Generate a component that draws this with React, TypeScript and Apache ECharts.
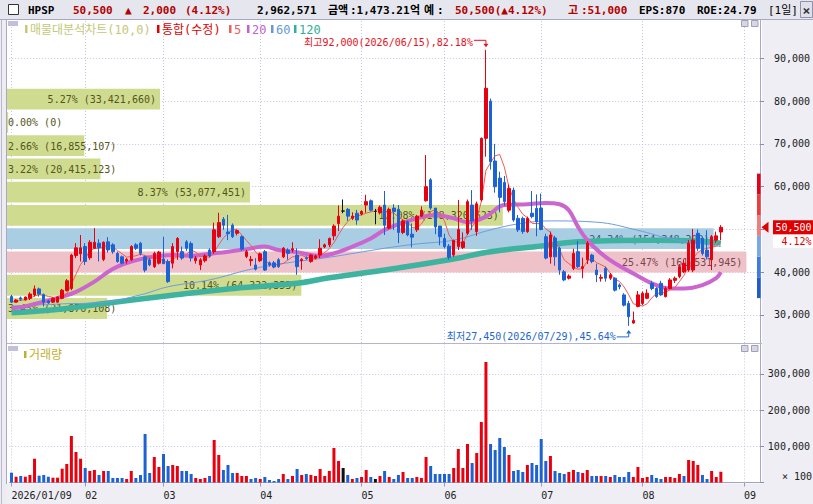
import React, { useEffect, useRef } from "react";
import * as echarts from "echarts";

// ---------------- data ----------------
const janDays = [9, 12, 13, 14, 15, 16, 19, 20, 21, 22, 23, 26, 27, 28, 29, 30];
const febDays = [2, 3, 4, 5, 6, 9, 10, 11, 12, 13, 19, 20, 23, 24, 25, 26, 27];
const marDays = [3, 4, 5, 6, 9, 10, 11, 12, 13, 16, 17, 18, 19, 20, 23, 24, 25, 26, 27, 30, 31];
const aprDays = [1, 2, 3, 6, 7, 8, 9, 10, 13, 14, 15, 16, 17, 20, 21, 22, 23, 24, 27, 28, 29, 30];
const mayDays = [4, 6, 7, 8, 11, 12, 13, 14, 15, 18, 19, 20, 21, 22, 26, 27, 28, 29];
const junDays = [1, 2, 4, 5, 8, 9, 10, 11, 12, 15, 16, 17, 18, 19, 22, 23, 24, 25, 26, 29, 30];
const julDays = [1, 2, 3, 6, 7, 8, 9, 10, 13, 14, 15, 16, 20, 21, 22, 23, 24, 27, 28, 29, 30, 31];
const augDays = [3, 4, 5, 6, 7, 10, 11, 12, 13, 14, 18, 19, 20, 21, 24, 25, 26, 27];
const futureDates = ["2026/08/28", "2026/08/29", "2026/08/30", "2026/08/31", "2026/09/01", "2026/09/02", "2026/09/03", "2026/09/04"];

const opens = [
  34300, 33000, 34000, 33500, 33900, 34700, 36100, 34800, 33300, 33000,
  33000, 33900, 35700, 36200, 43900, 44300, 46000, 43400, 45600, 46800,
  43000, 47100, 46400, 44400, 43600, 42600, 42900, 46400, 46800, 43600,
  42900, 41300, 42100, 43100, 42500, 42100, 44800, 44800, 47100, 46700,
  42700, 41700, 42700, 45200, 44800, 48300, 52400, 49400, 51000, 49100,
  48300, 43700, 42700, 41700, 42700, 44800, 42200, 42200, 42900, 43600,
  45200, 45200, 44000, 42700, 43400, 42500, 43300, 44000, 45900, 46400,
  48500, 51400, 54300, 54700, 52600, 53800, 53600, 55700, 56700, 54200,
  53900, 55700, 50300, 55000, 54700, 49300, 51800, 48900, 49900, 53100,
  56700, 61600, 55000, 50800, 47900, 46100, 44000, 46000, 45800, 49100,
  55700, 49500, 56900, 71300, 80000, 66000, 62000, 61000, 54500, 59200,
  52600, 52600, 49500, 53800, 54900, 55000, 48300, 43600, 48000, 45600,
  40100, 38600, 40900, 44800, 40900, 42900, 44000, 40500, 38600, 40900,
  38600, 38600, 37000, 34700, 32700, 28100, 32000, 32700, 33900, 37400,
  36200, 37400, 34300, 36200, 38100, 39000, 40100, 40500, 40500, 49100,
  47900, 45200, 42900, 47500, 49400,
];
const highs = [
  34700, 33700, 34300, 34300, 35300, 36900, 36400, 35000, 33600, 34100,
  34400, 36100, 38400, 44300, 46800, 48700, 46800, 47500, 50300, 47700,
  47200, 48200, 46800, 44800, 43900, 43300, 46300, 46800, 47100, 43900,
  43300, 44800, 45000, 48300, 43000, 46800, 48200, 46000, 47500, 47200,
  43800, 43300, 44200, 45600, 51600, 53900, 52900, 53400, 51400, 50000,
  48600, 45200, 43800, 43300, 44600, 45200, 42500, 42600, 43300, 45900,
  45600, 47000, 45600, 43300, 43700, 44300, 44100, 47700, 46700, 48100,
  51200, 55600, 57000, 55000, 54000, 54600, 54500, 58100, 57000, 54800,
  55600, 59000, 55100, 55900, 55700, 52300, 52100, 51400, 53400, 55400,
  67400, 62000, 55000, 50800, 49000, 46600, 47600, 56900, 49300, 57000,
  59200, 56500, 71500, 92000, 80600, 70000, 63500, 62500, 60500, 59800,
  53400, 53000, 53000, 59000, 58200, 58400, 49000, 49500, 48500, 46000,
  40500, 39500, 45500, 47300, 43400, 47300, 44300, 42000, 39500, 41300,
  39800, 38800, 37400, 35100, 33300, 30800, 35600, 35500, 36000, 38000,
  36500, 38000, 36600, 38600, 39000, 41900, 43000, 47500, 50100, 50000,
  48300, 49800, 48700, 49500, 51000,
];
const lows = [
  32800, 32900, 33300, 33400, 33500, 34300, 34300, 32000, 32600, 32800,
  32900, 33700, 35500, 35800, 43300, 42500, 41700, 42900, 45400, 42500,
  42600, 44600, 44300, 42200, 41800, 42000, 42600, 45200, 43900, 40000,
  41400, 41000, 41800, 41900, 37500, 40900, 42900, 42900, 45000, 42500,
  42000, 40500, 42300, 43500, 44300, 48000, 49900, 47500, 48000, 48600,
  45000, 43300, 41500, 40400, 42400, 40300, 41300, 40900, 41000, 43300,
  42900, 44600, 39400, 40600, 42900, 42200, 43000, 43300, 45600, 45900,
  47500, 49600, 53800, 52000, 52200, 51100, 53300, 53900, 54200, 51200,
  53500, 48700, 50000, 49900, 46800, 48900, 48400, 45800, 49400, 52900,
  56500, 54600, 48900, 46300, 45600, 42900, 43600, 45200, 45400, 48700,
  49900, 48500, 56500, 67000, 64000, 58600, 54000, 55500, 54000, 51800,
  49400, 49000, 49200, 52600, 48400, 49800, 43000, 42000, 41500, 39400,
  37900, 38300, 40500, 41000, 38600, 41900, 42100, 37700, 37800, 37800,
  38200, 35500, 36000, 32000, 27450, 28000, 31800, 32300, 33700, 35800,
  34000, 34500, 34100, 36000, 37500, 38600, 39800, 40100, 40000, 45000,
  43900, 43000, 40500, 46900, 47500,
];
const closes = [
  33000, 33500, 33700, 34200, 34900, 36100, 34900, 33000, 32800, 33900,
  34200, 35800, 38000, 44000, 45700, 45700, 42500, 47000, 47000, 45800,
  47000, 45200, 44800, 42500, 42100, 43000, 46000, 45600, 44400, 40500,
  41700, 44400, 44700, 42000, 37800, 46000, 47900, 43300, 45600, 43300,
  43300, 42900, 43800, 43800, 49900, 51600, 51000, 49000, 48300, 49700,
  45400, 44800, 43000, 40700, 44300, 40500, 41700, 41200, 41300, 45600,
  44400, 45500, 41300, 43000, 43200, 44000, 43800, 45600, 46400, 47900,
  50800, 53100, 54300, 53100, 53100, 52200, 54200, 56500, 54500, 54200,
  55200, 51000, 54700, 54200, 49300, 52000, 48700, 48200, 53100, 54500,
  60000, 55000, 50600, 48300, 46000, 43500, 47400, 50000, 47100, 56500,
  52000, 56000, 71300, 83000, 65800, 60000, 57500, 56500, 59600, 52200,
  49900, 49500, 52600, 53000, 51800, 50000, 43300, 48700, 43600, 40500,
  38200, 39100, 44400, 41300, 41300, 46800, 42500, 39400, 38800, 38600,
  39400, 35800, 36600, 32300, 29600, 28700, 34700, 35100, 35100, 36200,
  34300, 34700, 36200, 38200, 38600, 41300, 42100, 46800, 47500, 45600,
  44400, 43600, 48300, 48500, 50500,
];

// volume in units of 100 shares
const volumes = [
  27100, 16000, 18000, 16000, 20700, 65700, 18800, 20700, 16000, 13300, 13300, 38100, 51100, 128500, 84300, 65700,
  40100, 31800, 34500, 20700, 31800, 31800, 12400, 12400, 12400, 9700, 31800, 12400, 20700, 134000, 26200, 70400, 42800,
  78700, 45600, 48300, 45600, 31800, 31800, 23500, 12400, 9700, 12400, 18000, 117400, 76000, 34500, 48300, 26200, 26200, 18000, 18000, 9700, 12400,
  9700, 15200, 6900, 4100, 9700, 23500, 9700, 18000, 37300, 20700, 23500, 20700, 18000, 37300, 18000, 31800, 95300, 59400, 40100, 20700, 9700, 12400,
  15200, 34500, 15200, 9700, 18000, 31800, 15200, 9700, 20700, 29000, 12400, 12400, 15200, 12400, 70400, 45600, 23500, 23500,
  23500, 23500, 40100, 92500, 40100, 106400, 53900, 81500, 167100, 332900, 106400, 89800, 122900, 98100, 76000, 31800, 34500, 29000, 48300, 53900, 48300,
  120200, 59400, 73200, 31800, 26200, 23500, 29000, 34500, 29000, 26200, 34500, 18000, 18000, 18000, 18000, 15200, 20700, 15200, 15200, 29000, 15200, 42800,
  12400, 15200, 20700, 12400, 9700, 15200, 15200, 12400, 23500, 18000, 62200, 59400, 48300, 20700, 9700, 31800, 15200, 29626,
];
const volumeDirections = (
  "dudu" + "uudd" + "duuu" + "uuuu" +
  "duud" + "uddd" + "duud" + "dddu" + "u" +
  "dduu" + "dddu" + "uudu" + "uddd" + "uuud" + "d" +
  "uddd" + "dudu" + "dudu" + "uuuu" + "uund" + "ud" +
  "uudn" + "udud" + "dudd" + "uuud" + "dd" +
  "dduu" + "uudu" + "uudd" + "ddud" + "ddud" + "d" +
  "ddud" + "dduu" + "duud" + "dudu" + "dddd" + "uu" +
  "uudd" + "duuu" + "uduu" + "uddu" + "uu"
).split("");

// moving averages: [day index, price]
const ma20 = [
  [0, 31600], [2, 31800], [7, 33100], [11, 34300], [14, 35400], [18, 37800], [21, 40100], [23, 41300],
  [26, 42500], [29, 43300], [32, 43800], [36, 44000], [39, 43800], [43, 44300], [47, 44800], [51, 45400],
  [55, 46000], [58, 45200], [62, 44700], [67, 43800], [70, 44400], [74, 46000], [78, 47900], [81, 49900],
  [85, 51600], [88, 52600], [92, 53400], [96, 52600], [99, 51700], [103, 53000], [107, 55700], [112, 55900],
  [116, 56200], [119, 55900], [121, 54500], [123, 50600], [125, 47500], [128, 44400], [131, 42100],
  [135, 39700], [139, 37400], [143, 36200], [146, 36200], [150, 37000], [153, 38600], [154, 40000],
];
const ma60 = [
  [0, 32100], [11, 32600], [20, 33000], [28, 34700], [34, 36600], [43, 38200], [52, 40700], [60, 42200],
  [69, 43500], [81, 45600], [88, 46600], [96, 47500], [104, 49900], [110, 51300], [117, 52000], [127, 51700],
  [136, 49800], [143, 47800], [149, 46800], [154, 46000],
];
const ma120 = [
  [0, 30500], [11, 31400], [21, 32800], [34, 34500], [47, 36100], [62, 37400], [69, 38700], [84, 41000],
  [95, 42900], [104, 44800], [114, 46000], [123, 47100], [132, 47400], [140, 47500], [149, 47300], [154, 46800],
];

// volume profile (매물대), bottom band first
const bandRange = [28800, 83200];
const bandPct = [3.45, 10.14, 25.47, 24.34, 17.08, 8.37, 3.22, 2.66, 0.0, 5.27];
const bandVol = [21876108, 64332353, 161531945, 154348390, 108320623, 53077451, 20415123, 16855107, 0, 33421660];

const priceTicks = [30000, 40000, 50000, 60000, 70000, 80000, 90000];
const priceLabels = [30000, 40000, 60000, 70000, 80000, 90000];
const volTicks = [100000, 200000, 300000];
const limitLevels = [33950, 38800, 43650, 48500, 53350, 58200, 63050];
const extremes = [
  [103, 92000, 0],
  [134, 27450, 1],
];

const ticker = "HPSP";
const lastPrice = 50500;
const change = 2000;
const changePct = 4.12;
const todayVolume = 2962571;
const amountText = "1,473.21";
const dayHigh = 51000;
const eps = 870;
const roe = 24.79;

// ---------------- helpers ----------------
const monthDays: [string, number[]][] = [
  ["01", janDays], ["02", febDays], ["03", marDays], ["04", aprDays],
  ["05", mayDays], ["06", junDays], ["07", julDays], ["08", augDays],
];
const tradeDates = monthDays.flatMap(([m, ds]) => ds.map((d) => `2026/${m}/${String(d).padStart(2, "0")}`));
const categories = [...tradeDates, ...futureDates];
const monthStarts = new Set<number>();
categories.forEach((c, i) => {
  if (i === 0 || c.slice(5, 7) !== categories[i - 1].slice(5, 7)) monthStarts.add(i);
});
const fmt = (v: number) => Math.round(v).toLocaleString("en-US");
const MONO = '"DejaVu Sans Mono", "Noto Sans CJK KR", monospace';

const ma5 = closes.map((_, i) => {
  const w = closes.slice(Math.max(0, i - 4), i + 1);
  return Math.round(w.reduce((a, b) => a + b, 0) / w.length);
});

const bandStep = (bandRange[1] - bandRange[0]) / bandPct.length;
const bandRows = bandPct.map((p, i) => [i, bandRange[0] + i * bandStep, bandRange[0] + (i + 1) * bandStep, p, bandVol[i]]);
const maxPct = Math.max(...bandPct);
const maxBand = bandPct.indexOf(maxPct);
const curBand = Math.floor((closes[closes.length - 1] - bandRange[0]) / bandStep);
const limitColors = ["#2159cf", "#3d7ddf", "#79a8e8", "#f27b7b", "#ee3b3b", "#e2001b"];
const limitRows = limitLevels.slice(0, -1).map((v, k) => [k, v, limitLevels[k + 1]]);

const UP = "#e8000f";
const DOWN = "#1d62d4";

const GL = 9.2;
const GW = 752.7;
const PT = 20;
const PH = 323;
const PMIN = 23450;
const PMAX = 98970;
const VT = 344;
const VH = 138.5;
const VMAX = 382600;

const gridLineStyle = { color: "#c4c4e2", type: [1, 2] as any, width: 1 };

function buildOption(): any {
  const candleData = opens.map((o, i) => {
    const v = [o, closes[i], lows[i], highs[i]];
    if (o === closes[i]) {
      return { value: v, itemStyle: { color: "#111", color0: "#111", borderColor: "#111", borderColor0: "#111" } };
    }
    return v;
  });
  const volData = volumes.map((v, i) => ({
    value: v,
    itemStyle: { color: volumeDirections[i] === "u" ? UP : volumeDirections[i] === "d" ? DOWN : "#111" },
  }));
  const monthList = Array.from(monthStarts).map((i) => ({ xAxis: categories[i] }));

  const renderBands = (params: any, api: any) => {
    const cs = params.coordSys;
    const i = api.value(0);
    const lo = api.value(1);
    const hi = api.value(2);
    const pct = api.value(3);
    const vol = api.value(4);
    const yHi = api.coord([0, hi])[1] + 1.2;
    const yLo = api.coord([0, lo])[1] - 1.2;
    const x0 = cs.x - 2.2;
    const full = cs.width - 11.4;
    const w = Math.max(1.2, (pct / maxPct) * full);
    const fill = i === maxBand ? "#efc2c9" : i === curBand ? "#a9cde3" : "#cfdc8f";
    const tc = i === maxBand ? "#7a4650" : i === curBand ? "#3d5a78" : "#55551a";
    const label = `${pct.toFixed(2)}% (${fmt(vol)})`;
    const fits = w >= label.length * 6.02 + 8;
    return {
      type: "group",
      children: [
        { type: "rect", shape: { x: x0, y: yHi, width: w, height: yLo - yHi }, style: { fill } },
        {
          type: "text",
          style: {
            text: label,
            x: fits ? x0 + w - 4 : x0 + 1,
            y: (yHi + yLo) / 2 + 0.5,
            align: fits ? "right" : "left",
            verticalAlign: "middle",
            fill: tc,
            font: `10px ${MONO}`,
          },
        },
      ],
    };
  };

  const renderLimit = (params: any, api: any) => {
    const cs = params.coordSys;
    const k = api.value(0);
    const y1 = api.coord([0, api.value(2)])[1];
    const y2 = api.coord([0, api.value(1)])[1];
    return {
      type: "rect",
      shape: { x: cs.x + cs.width - 3, y: y1, width: 3.6, height: y2 - y1 },
      style: { fill: limitColors[k] },
    };
  };

  const renderExtremes = (params: any, api: any) => {
    const idx = api.value(0);
    const price = api.value(1);
    const isHigh = api.value(2) === 0;
    const p = api.coord([idx, price]);
    const color = isHigh ? "#e8101c" : "#2266cc";
    const pct = (Math.abs(price - lastPrice) / lastPrice) * 100;
    const label = `${isHigh ? "최고" : "최저"}${fmt(price)}(${categories[idx]}),${pct.toFixed(2)}%`;
    const ly = isHigh ? p[1] - 9.5 : p[1] + 11;
    const tip = isHigh ? p[1] - 2.5 : p[1] + 4;
    const base = isHigh ? tip - 3.5 : tip + 3.5;
    return {
      type: "group",
      children: [
        {
          type: "polyline",
          shape: { points: [[p[0] - 12, ly], [p[0], ly], [p[0], base]] },
          style: { stroke: color, lineWidth: 1, fill: null },
        },
        {
          type: "polygon",
          shape: { points: [[p[0] - 2.5, base], [p[0] + 2.5, base], [p[0], tip]] },
          style: { fill: color },
        },
        {
          type: "text",
          style: {
            text: label,
            x: p[0] - 13,
            y: isHigh ? ly + 1.8 : ly - 0.3,
            align: "right",
            verticalAlign: "middle",
            fill: color,
            font: `10px ${MONO}`,
          },
        },
      ],
    };
  };

  const renderCurrent = (params: any, api: any) => {
    const cs = params.coordSys;
    const p = api.coord([api.value(0), api.value(1)]);
    const ax = cs.x + cs.width;
    const y = p[1];
    return {
      type: "group",
      children: [
        { type: "polygon", shape: { points: [[ax + 1.5, y], [ax + 8.5, y - 5.5], [ax + 8.5, y + 5.5]] }, style: { fill: "#e00000" } },
        { type: "rect", shape: { x: ax + 13, y: y - 7, width: 813 - ax - 13, height: 14 }, style: { fill: "#e00000" } },
        {
          type: "text",
          style: { text: fmt(api.value(1)), x: 811.5, y: y + 0.5, align: "right", verticalAlign: "middle", fill: "#fff", font: `10px ${MONO}` },
        },
        { type: "rect", shape: { x: ax + 13, y: y + 8, width: 813 - ax - 13, height: 12.5 }, style: { fill: "#fff" } },
        {
          type: "text",
          style: { text: `${changePct.toFixed(2)}%`, x: 811.5, y: y + 14.5, align: "right", verticalAlign: "middle", fill: "#e00000", font: `10px ${MONO}` },
        },
      ],
    };
  };

  const hdrFont = (bold: boolean) => `${bold ? "bold " : ""}11px ${MONO}`;
  const RED = "#b30000";
  const headerTexts: [string, number, string, boolean][] = [
    [ticker, 28, "#000", true],
    [fmt(lastPrice), 73, RED, true],
    ["▲", 125, RED, true],
    [fmt(change), 143, RED, true],
    [`(${changePct.toFixed(2)}%)`, 185, RED, true],
    [fmt(todayVolume), 257, "#000", true],
    ["금액", 328, "#000", true],
    [`:${amountText}`, 350, "#000", true],
    ["억", 410, "#000", true],
    ["예", 424, "#000", true],
    [":", 437, "#000", true],
    [`${fmt(lastPrice)}(▲${changePct.toFixed(2)}%)`, 455, RED, true],
    ["고", 568, RED, true],
    [`:${fmt(dayHigh)}`, 581, RED, true],
    [`EPS:${eps}`, 639, "#000", true],
    [`ROE:${roe}`, 697, "#000", true],
    ["[1일]", 768, "#000", false],
  ];

  const legendItems: [string, number, string][] = [
    ["매물대분석차트(10,0)", 25, "#c4c878"],
    ["통합(수정)", 157, "#e00000"],
    ["5", 229, "#e86060"],
    ["20", 247, "#c262cc"],
    ["60", 271, "#6898d8"],
    ["120", 294, "#30b098"],
  ];

  const graphic: any[] = [
    // backgrounds
    { type: "rect", z: -10, shape: { x: 762, y: 19, width: 51, height: 485 }, style: { fill: "#eeeef4" } },
    { type: "rect", z: -10, shape: { x: 0, y: 483.5, width: 813, height: 21 }, style: { fill: "#eeeef4" } },
    { type: "rect", z: -10, shape: { x: 0, y: 19, width: 6.5, height: 485 }, style: { fill: "#ececf2" } },
    { type: "line", z: 50, shape: { x1: 6.5, y1: 19, x2: 6.5, y2: 484 }, style: { stroke: "#a8a8c2", lineWidth: 1 } },
    { type: "line", z: 50, shape: { x1: 1.5, y1: 19, x2: 1.5, y2: 504 }, style: { stroke: "#b8b8cc", lineWidth: 1 } },
    { type: "line", z: 50, shape: { x1: 6.5, y1: 343.5, x2: 762, y2: 343.5 }, style: { stroke: "#b4b4cc", lineWidth: 1 } },
    // header
    { type: "rect", z: 100, shape: { x: 0, y: 0, width: 813, height: 19 }, style: { fill: "#e6e6ee" } },
    { type: "line", z: 101, shape: { x1: 0, y1: 19.5, x2: 813, y2: 19.5 }, style: { stroke: "#a8a8c4", lineWidth: 1 } },
    { type: "rect", z: 101, shape: { x: 8.5, y: 4.5, width: 10, height: 10 }, style: { fill: "#fff", stroke: "#333", lineWidth: 1 } },
    { type: "rect", z: 101, shape: { x: 800.5, y: 1.5, width: 12, height: 16 }, style: { fill: "#e0e0ea", stroke: "#9090a8", lineWidth: 1 } },
    { type: "text", z: 102, style: { text: "×", x: 806.5, y: 10, align: "center", verticalAlign: "middle", fill: "#333", font: `bold 13px ${MONO}` } },
    ...headerTexts.map(([t, x, c, b]) => ({
      type: "text",
      z: 102,
      style: { text: t, x, y: 10, verticalAlign: "middle", fill: c, font: hdrFont(b) },
    })),
    // panel legends
    { type: "rect", z: 60, shape: { x: 8, y: 21, width: 10, height: 5 }, style: { fill: "#c0c0dc" } },
    ...legendItems.flatMap(([t, x, c]) => [
      { type: "rect", z: 60, shape: { x, y: 25, width: 2.5, height: 8 }, style: { fill: c } },
      { type: "text", z: 60, style: { text: t, x: x + 5, y: 29.5, verticalAlign: "middle", fill: c, font: `12px ${MONO}` } },
    ]),
    { type: "rect", z: 60, shape: { x: 8, y: 346, width: 10, height: 5 }, style: { fill: "#c0c0dc" } },
    { type: "rect", z: 60, shape: { x: 24, y: 351, width: 2.5, height: 7 }, style: { fill: "#c0b030" } },
    { type: "text", z: 60, style: { text: "거래량", x: 29, y: 355, verticalAlign: "middle", fill: "#c0b030", font: `12px ${MONO}` } },
    // panel icons
    ...[21, 346].flatMap((y) => [
      { type: "rect", z: 60, shape: { x: 741.5, y: y - 0.5, width: 6.5, height: 6 }, style: { fill: "#d6d6e4", stroke: "#a0a0b8", lineWidth: 1 } },
      { type: "rect", z: 60, shape: { x: 751.5, y: y - 0.5, width: 6.5, height: 6 }, style: { fill: "#d6d6e4", stroke: "#a0a0b8", lineWidth: 1 } },
    ]),
    { type: "text", z: 60, style: { text: "× 100", x: 812, y: 476, align: "right", verticalAlign: "middle", fill: "#202020", font: `10px ${MONO}` } },
  ];

  const axisTextStyle = { fontFamily: MONO, fontSize: 10, color: "#202020" };

  return {
    animation: false,
    graphic,
    grid: [
      { left: GL, top: PT, width: GW, height: PH },
      { left: GL, top: VT, width: GW, height: VH },
    ],
    xAxis: [
      {
        type: "category",
        gridIndex: 0,
        data: categories,
        boundaryGap: true,
        axisLine: { show: false },
        axisTick: { show: false },
        axisLabel: { show: false },
        splitLine: { show: false },
      },
      {
        type: "category",
        gridIndex: 1,
        data: categories,
        boundaryGap: true,
        axisLine: { show: true, lineStyle: { color: "#a4a4c0" } },
        axisTick: {
          show: true,
          alignWithLabel: true,
          length: 4,
          interval: (i: number) => monthStarts.has(i),
          lineStyle: { color: "#9a9ab8" },
        },
        axisLabel: {
          interval: (i: number) => monthStarts.has(i),
          formatter: (v: string, i: number) => (i === 0 ? v : v.slice(5, 7)),
          align: "left",
          margin: 8,
          ...axisTextStyle,
        },
        splitLine: { show: false },
      },
    ],
    yAxis: [
      {
        type: "value",
        gridIndex: 0,
        position: "right",
        min: PMIN,
        max: PMAX,
        axisLine: { show: true, lineStyle: { color: "#a8a8c4" } },
        axisTick: { show: true, customValues: priceTicks, length: 4, lineStyle: { color: "#8c8cac" } },
        axisLabel: { customValues: priceLabels, formatter: (v: number) => fmt(v), align: "right", margin: 50, ...axisTextStyle },
        splitLine: { show: false },
      },
      {
        type: "value",
        gridIndex: 1,
        position: "right",
        min: 0,
        max: VMAX,
        axisLine: { show: true, lineStyle: { color: "#a8a8c4" } },
        axisTick: { show: true, customValues: [0, ...volTicks], length: 4, lineStyle: { color: "#8c8cac" } },
        axisLabel: { customValues: volTicks, formatter: (v: number) => fmt(v), align: "right", margin: 50, ...axisTextStyle },
        splitLine: { show: false },
      },
    ],
    series: [
      {
        type: "custom",
        name: "매물대",
        xAxisIndex: 0,
        yAxisIndex: 0,
        z: 2,
        clip: false,
        silent: true,
        encode: { x: 0, y: [1, 2] },
        renderItem: renderBands,
        data: bandRows,
      },
      {
        type: "line",
        name: "120",
        xAxisIndex: 0,
        yAxisIndex: 0,
        z: 3,
        data: ma120,
        smooth: 0.4,
        showSymbol: false,
        silent: true,
        lineStyle: { color: "#3db3a0", width: 5.5 },
      },
      {
        type: "line",
        name: "60",
        xAxisIndex: 0,
        yAxisIndex: 0,
        z: 3,
        data: ma60,
        smooth: 0.4,
        showSymbol: false,
        silent: true,
        lineStyle: { color: "#6c9ce0", width: 1 },
      },
      {
        type: "line",
        name: "20",
        xAxisIndex: 0,
        yAxisIndex: 0,
        z: 3,
        data: ma20,
        smooth: 0.4,
        showSymbol: false,
        silent: true,
        lineStyle: { color: "#cc66cf", width: 4 },
      },
      {
        type: "line",
        name: "5",
        xAxisIndex: 0,
        yAxisIndex: 0,
        z: 3,
        data: ma5,
        showSymbol: false,
        silent: true,
        lineStyle: { color: "#ef5a5a", width: 1 },
      },
      {
        type: "candlestick",
        name: "통합(수정)",
        xAxisIndex: 0,
        yAxisIndex: 0,
        z: 5,
        barWidth: 3,
        silent: true,
        itemStyle: { color: UP, color0: DOWN, borderColor: UP, borderColor0: DOWN, borderWidth: 1 },
        data: candleData,
        markLine: {
          silent: true,
          z: 1,
          symbol: ["none", "none"],
          label: { show: false },
          lineStyle: gridLineStyle,
          data: [...monthList, ...priceTicks.map((v) => ({ yAxis: v }))],
        },
      },
      {
        type: "custom",
        name: "limits",
        xAxisIndex: 0,
        yAxisIndex: 0,
        z: 6,
        clip: false,
        silent: true,
        encode: { x: 0, y: [1, 2] },
        renderItem: renderLimit,
        data: limitRows,
      },
      {
        type: "custom",
        name: "extremes",
        xAxisIndex: 0,
        yAxisIndex: 0,
        z: 7,
        clip: false,
        silent: true,
        encode: { x: 0, y: 1 },
        renderItem: renderExtremes,
        data: extremes,
      },
      {
        type: "custom",
        name: "current",
        xAxisIndex: 0,
        yAxisIndex: 0,
        z: 8,
        clip: false,
        silent: true,
        encode: { x: 0, y: 1 },
        renderItem: renderCurrent,
        data: [[closes.length - 1, lastPrice]],
      },
      {
        type: "bar",
        name: "거래량",
        xAxisIndex: 1,
        yAxisIndex: 1,
        z: 5,
        barWidth: 3,
        silent: true,
        data: volData,
        markLine: {
          silent: true,
          z: 1,
          symbol: ["none", "none"],
          label: { show: false },
          lineStyle: gridLineStyle,
          data: [...monthList, ...volTicks.map((v) => ({ yAxis: v }))],
        },
      },
    ],
  };
}

export default function App() {
  const ref = useRef<HTMLDivElement>(null);
  useEffect(() => {
    document.body.style.margin = "0";
    document.body.style.overflow = "hidden";
    const chart = echarts.init(ref.current as HTMLDivElement, null, { renderer: "svg" });
    chart.setOption(buildOption());
    return () => chart.dispose();
  }, []);
  return <div ref={ref} style={{ width: 813, height: 504 }} />;
}
